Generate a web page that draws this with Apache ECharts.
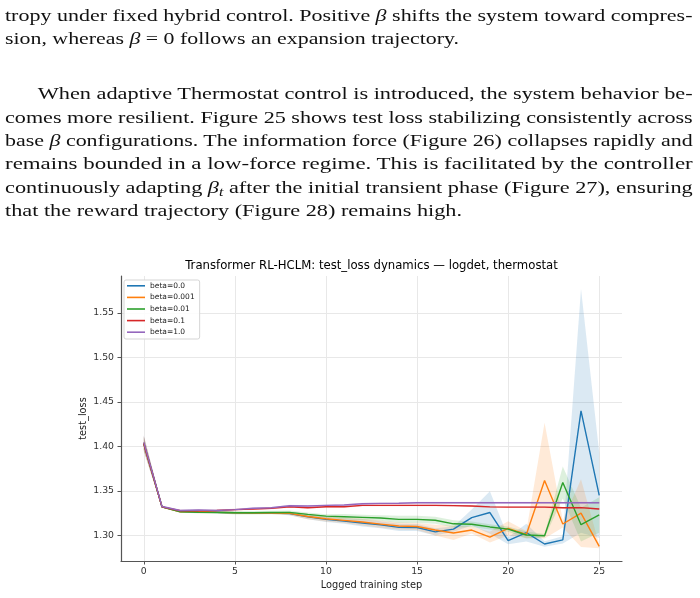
<!DOCTYPE html>
<html>
<head>
<meta charset="utf-8">
<script src="https://cdn.jsdelivr.net/npm/echarts@6/dist/echarts.min.js"></script>
<style>
  html, body { margin:0; padding:0; background:#fff; }
  #wrap { position:relative; width:700px; height:598px; overflow:hidden; }
  #chart { position:absolute; left:0; top:0; width:700px; height:598px; }
  #txt { position:absolute; left:0; top:0; width:700px; height:240px; pointer-events:none; }
  #txt text { font-family:'Liberation Serif', serif; font-size:17px; fill:#111; }
</style>
</head>
<body>
<div id="wrap">
  <div id="chart"></div>
  <svg id="txt" width="700" height="240" xmlns="http://www.w3.org/2000/svg">
    <text x="5" y="20.7" textLength="687.5" lengthAdjust="spacingAndGlyphs">tropy under fixed hybrid control. Positive <tspan font-style="italic">β</tspan> shifts the system toward compres-</text>
    <text x="5" y="44.3" textLength="454" lengthAdjust="spacingAndGlyphs">sion, whereas <tspan font-style="italic">β</tspan> = 0 follows an expansion trajectory.</text>
    <text x="37.7" y="99.3" textLength="655" lengthAdjust="spacingAndGlyphs">When adaptive Thermostat control is introduced, the system behavior be-</text>
    <text x="5" y="122.7" textLength="687.7" lengthAdjust="spacingAndGlyphs">comes more resilient.  Figure 25 shows test loss stabilizing consistently across</text>
    <text x="5" y="146" textLength="687.7" lengthAdjust="spacingAndGlyphs">base <tspan font-style="italic">β</tspan> configurations. The information force (Figure 26) collapses rapidly and</text>
    <text x="5" y="169.3" textLength="687.7" lengthAdjust="spacingAndGlyphs">remains bounded in a low-force regime.  This is facilitated by the controller</text>
    <text x="5" y="192.7" textLength="687.7" lengthAdjust="spacingAndGlyphs">continuously adapting <tspan font-style="italic">β</tspan><tspan font-style="italic" font-size="12" dy="3">t</tspan><tspan dy="-3"> after the initial transient phase (Figure 27), ensuring</tspan></text>
    <text x="5" y="216" textLength="457" lengthAdjust="spacingAndGlyphs">that the reward trajectory (Figure 28) remains high.</text>
  </svg>
</div>
<script>
// ---- data ----
const chartTitle = 'Transformer RL-HCLM: test_loss dynamics \u2014 logdet, thermostat';
const xName = 'Logged training step';
const yName = 'test_loss';
const steps = [0,1,2,3,4,5,6,7,8,9,10,11,12,13,14,15,16,17,18,19,20,21,22,23,24,25];
const xTicks = [0,5,10,15,20,25];
const yTicks = [1.30,1.35,1.40,1.45,1.50,1.55];
const seriesNames = ['beta=0.0','beta=0.001','beta=0.01','beta=0.1','beta=1.0'];
const beta0 =    [1.404,1.332,1.327,1.3265,1.326,1.3255,1.325,1.325,1.3245,1.321,1.318,1.316,1.314,1.312,1.309,1.3088,1.304,1.307,1.320,1.3257,1.294,1.303,1.2903,1.295,1.440,1.345];
const beta0001 = [1.404,1.332,1.3265,1.327,1.326,1.3255,1.325,1.325,1.3247,1.3212,1.3187,1.3169,1.315,1.3127,1.3105,1.310,1.306,1.3027,1.306,1.298,1.3078,1.301,1.3616,1.3128,1.325,1.2876];
const beta001 =  [1.403,1.332,1.3265,1.326,1.3258,1.3255,1.3255,1.3258,1.3259,1.3236,1.3217,1.321,1.3203,1.3195,1.318,1.318,1.317,1.313,1.3125,1.3095,1.307,1.3004,1.2996,1.3594,1.312,1.323];
const beta01 =   [1.403,1.332,1.3277,1.3275,1.328,1.329,1.3295,1.3305,1.3322,1.3311,1.3322,1.3322,1.3337,1.3337,1.3337,1.3337,1.3337,1.3335,1.333,1.332,1.3318,1.3318,1.3318,1.331,1.3312,1.3296];
const beta1 =    [1.4045,1.3325,1.328,1.3285,1.328,1.329,1.3305,1.331,1.3333,1.333,1.3337,1.3341,1.3356,1.336,1.3362,1.3367,1.3367,1.3367,1.3367,1.3367,1.3367,1.3367,1.3367,1.3367,1.3367,1.3367];
const std0 =    [0.008,0.001,0.001,0.001,0.001,0.001,0.001,0.001,0.002,0.003,0.003,0.003,0.004,0.004,0.004,0.004,0.004,0.003,0.009,0.024,0.004,0.010,0.003,0.004,0.137,0.048];
const std0001 = [0.008,0.001,0.001,0.002,0.001,0.001,0.001,0.001,0.002,0.003,0.003,0.003,0.004,0.004,0.004,0.004,0.006,0.008,0.004,0.006,0.008,0.004,0.065,0.004,0.038,0.002];
const std001 =  [0.008,0.001,0.001,0.001,0.001,0.002,0.002,0.002,0.002,0.002,0.002,0.003,0.003,0.003,0.004,0.004,0.004,0.004,0.003,0.003,0.003,0.004,0.002,0.018,0.019,0.020];
const std01 =   [0.008,0.001,0.001,0.001,0.001,0.001,0.001,0.001,0.001,0.001,0.001,0.001,0.001,0.001,0.001,0.001,0.001,0.001,0.001,0.001,0.001,0.001,0.001,0.001,0.001,0.001];
const std1 =    [0.008,0.001,0.001,0.001,0.001,0.001,0.001,0.001,0.001,0.001,0.001,0.001,0.001,0.001,0.001,0.001,0.001,0.001,0.001,0.001,0.001,0.001,0.001,0.001,0.001,0.001];
const colors = ['#1f77b4','#ff7f0e','#2ca02c','#d62728','#9467bd'];

const means = [beta0, beta0001, beta001, beta01, beta1];
const stds = [std0, std0001, std001, std01, std1];

function pairs(arr){ return steps.map((s,i)=>[s, arr[i]]); }

function bandSeries(k){
  const m = means[k], sd = stds[k], c = colors[k];
  return {
    type:'custom', name: seriesNames[k] + ' band', silent:true, z:1, clip:true,
    data:[[steps[0], m[0]]],
    renderItem:function(params, api){
      const pts = [];
      for (let i=0;i<steps.length;i++) pts.push(api.coord([steps[i], m[i]+sd[i]]));
      for (let i=steps.length-1;i>=0;i--) pts.push(api.coord([steps[i], m[i]-sd[i]]));
      return {type:'polygon', shape:{points:pts}, style:{fill:c, opacity:0.16}};
    }
  };
}

const series = [];
for (let k=0;k<5;k++) series.push(bandSeries(k));
for (let k=0;k<5;k++) series.push({
  type:'line', name: seriesNames[k], data: pairs(means[k]), showSymbol:false, z:3,
  lineStyle:{width:1.4, color:colors[k]}, itemStyle:{color:colors[k]}
});

const chart = echarts.init(document.getElementById('chart'), null, {renderer:'canvas'});
const font = 'DejaVu Sans';
chart.setOption({
  animation:false,
  backgroundColor:'transparent',
  color: colors,
  grid:{left:121, top:276, width:501, height:285, containLabel:false},
  graphic:[{type:'text', x:371.5, y:265.5, style:{text:chartTitle, font:'11.7px "DejaVu Sans"', fill:'#000', textAlign:'center', textVerticalAlign:'middle'}}],
  legend:{
    data: seriesNames, orient:'vertical', left:124, top:280,
    icon:'rect', itemWidth:18, itemHeight:1.6, itemGap:2,
    padding:[1,5,2,3], borderColor:'#d5d5d5', borderWidth:1, borderRadius:2,
    backgroundColor:'rgba(255,255,255,0.85)',
    textStyle:{fontFamily:font, fontSize:7.5, color:'#222', lineHeight:9.6, padding:[0,0,0,0]},
    selectedMode:false
  },
  xAxis:{
    type:'value', min:-1.25, max:26.25,
    name:xName, nameLocation:'middle', nameGap:19, nameMoveOverlap:false,
    nameTextStyle:{fontFamily:font, fontSize:9.8, color:'#222'},
    axisLine:{show:true, onZero:false, lineStyle:{color:'#555', width:1.2}},
    axisTick:{show:true, length:3.5, customValues:xTicks, lineStyle:{color:'#555'}},
    axisLabel:{customValues:xTicks, margin:6, fontFamily:font, fontSize:9.3, color:'#333'},
    splitLine:{show:true, lineStyle:{color:'#e8e8e8', width:1}}
  },
  yAxis:{
    type:'value', min:1.2712, max:1.5916,
    name:yName, nameLocation:'middle', nameGap:33, nameRotate:90, nameMoveOverlap:false,
    nameTextStyle:{fontFamily:font, fontSize:9.8, color:'#222'},
    axisLine:{show:true, onZero:false, lineStyle:{color:'#555', width:1.2}},
    axisTick:{show:true, length:3.5, customValues:yTicks, lineStyle:{color:'#555'}},
    axisLabel:{customValues:yTicks, margin:7, fontFamily:font, fontSize:9.3, color:'#333', formatter:v=>v.toFixed(2)},
    splitLine:{show:true, lineStyle:{color:'#e8e8e8', width:1}}
  },
  series: series
});
</script>
</body>
</html>
